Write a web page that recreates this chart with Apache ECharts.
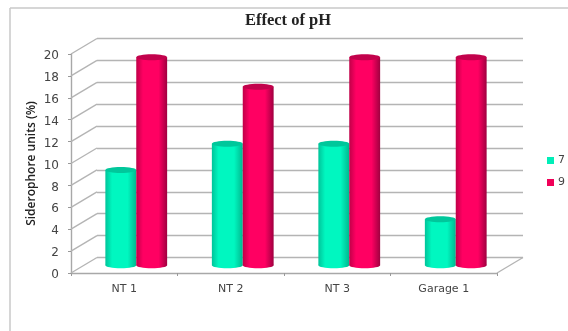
<!DOCTYPE html>
<html><head><meta charset="utf-8">
<style>html,body{margin:0;padding:0;background:#fff}#c{width:568px;height:331px;filter:blur(0.6px)}</style>
<script src="https://cdn.jsdelivr.net/npm/echarts@6/dist/echarts.min.js"></script>
</head><body><div id="c"></div>
<script>
const categories = ["NT 1", "NT 2", "NT 3", "Garage 1"];
const ph7 = [8.7, 11.1, 11.1, 4.2];
const ph9 = [19, 16.3, 19, 19];
const yTicks = [0, 2, 4, 6, 8, 10, 12, 14, 16, 18, 20];

const DX = 26, DY = -15.5, FONT = '"DejaVu Sans", sans-serif';
const chart = echarts.init(document.getElementById('c'), null, {renderer: 'canvas'});

function grad(edge, mid, dark) {
  return new echarts.graphic.LinearGradient(0, 0, 1, 0, [
    {offset: 0, color: edge}, {offset: 0.22, color: mid}, {offset: 0.72, color: mid}, {offset: 1, color: dark}
  ]);
}
function cylinder(side, cols) {
  return function (params, api) {
    const top = api.coord([api.value(0), api.value(1)]);
    const base = api.coord([api.value(0), 0]);
    const band = api.size([1, 0])[0];
    const w = band * 0.29;
    const cx = top[0] + side * w / 2 + DX / 2 - 1;
    const ty = top[1] + DY / 2, by = base[1] + DY / 2;
    const rx = w / 2, ry = 3;
    const fill = grad(cols[0], cols[1], cols[2]);
    return {type: 'group', children: [
      {type: 'ellipse', shape: {cx: cx, cy: by, rx: rx, ry: ry}, style: {fill: fill}},
      {type: 'rect', shape: {x: cx - rx, y: ty, width: w, height: by - ty}, style: {fill: fill}},
      {type: 'ellipse', shape: {cx: cx, cy: ty, rx: rx, ry: ry}, style: {fill: cols[3]}}
    ]};
  };
}
function sideWalls(params, api) {
  const v = api.value(1), band = api.size([1, 0])[0];
  const p = api.coord([0, v]);
  const x = p[0] - band / 2;
  const lineStyle = {stroke: '#b4b4b4', lineWidth: 1.4, fill: 'none'};
  const kids = [{type: 'line', shape: {x1: x, y1: p[1], x2: x + DX, y2: p[1] + DY}, style: lineStyle}];
  if (v === 0) {
    const r = api.coord([categories.length - 1, 0])[0] + band / 2;
    kids.push({type: 'line', shape: {x1: r, y1: p[1], x2: r + DX, y2: p[1] + DY}, style: lineStyle});
  }
  return {type: 'group', children: kids};
}

chart.setOption({
  animation: false,
  backgroundColor: '#fff',
  title: {text: 'Effect of pH', left: 283, top: 7, textAlign: 'center',
    textStyle: {fontFamily: '"Liberation Serif", serif', fontSize: 16.5, fontWeight: 'bold', color: '#222'}},
  legend: {data: ['7', '9'], orient: 'vertical', left: 542, top: 150, itemWidth: 7, itemHeight: 7, itemGap: 11,
    icon: 'rect', textStyle: {fontFamily: FONT, fontSize: 11, color: '#444', padding: [0, 0, 0, -1]}},
  grid: [
    {left: 71, width: 426, top: 54, height: 219},
    {left: 71 + DX, width: 426, top: 54 + DY, height: 219}
  ],
  xAxis: [
    {type: 'category', gridIndex: 0, data: categories, boundaryGap: true,
      axisLine: {lineStyle: {color: '#a8a8a8', width: 1.4}},
      axisTick: {show: true, length: 3, alignWithLabel: false, lineStyle: {color: '#999'}},
      axisLabel: {margin: 11, fontFamily: FONT, fontSize: 11, color: '#444'}},
    {type: 'category', gridIndex: 1, data: categories, show: false}
  ],
  yAxis: [
    {type: 'value', gridIndex: 0, min: 0, max: 20, interval: 2,
      name: 'Siderophore units (%)', nameLocation: 'middle', nameGap: 33, nameRotate: 90, nameMoveOverlap: false,
      nameTextStyle: {fontFamily: '"Open Sans", sans-serif', fontSize: 12, fontWeight: 600, color: '#222'},
      axisLine: {show: true, lineStyle: {color: '#a8a8a8', width: 1.4}},
      axisTick: {show: true, length: 3, lineStyle: {color: '#999'}},
      axisLabel: {margin: 12, verticalAlign: 'top', lineHeight: 4, fontFamily: FONT, fontSize: 12, color: '#444'},
      splitLine: {show: false}},
    {type: 'value', gridIndex: 1, min: 0, max: 20, interval: 2,
      axisLine: {show: false}, axisTick: {show: false}, axisLabel: {show: false},
      splitLine: {show: true, lineStyle: {color: '#b4b4b4', width: 1.4}}}
  ],
  series: [
    {type: 'custom', name: 'walls', silent: true, z: 1, xAxisIndex: 0, yAxisIndex: 0,
      renderItem: sideWalls, data: yTicks.map(v => [0, v])},
    {type: 'custom', name: '7', z: 3, xAxisIndex: 0, yAxisIndex: 0, itemStyle: {color: '#00eeb8'},
      renderItem: cylinder(-1, ['#00c49a', '#00f7c0', '#00b88f', '#00c79b']),
      data: ph7.map((v, i) => [i, v])},
    {type: 'custom', name: '9', z: 4, xAxisIndex: 0, yAxisIndex: 0, itemStyle: {color: '#f00058'},
      renderItem: cylinder(1, ['#c00048', '#ff0062', '#a00040', '#c2024c']),
      data: ph9.map((v, i) => [i, v])}
  ],
  graphic: [
    {type: 'line', shape: {x1: 10, y1: 8, x2: 568, y2: 8}, style: {stroke: '#c8c8c8', lineWidth: 1.5}},
    {type: 'line', shape: {x1: 10, y1: 8, x2: 10, y2: 331}, style: {stroke: '#c8c8c8', lineWidth: 1.5}}
  ]
});
</script></body></html>
